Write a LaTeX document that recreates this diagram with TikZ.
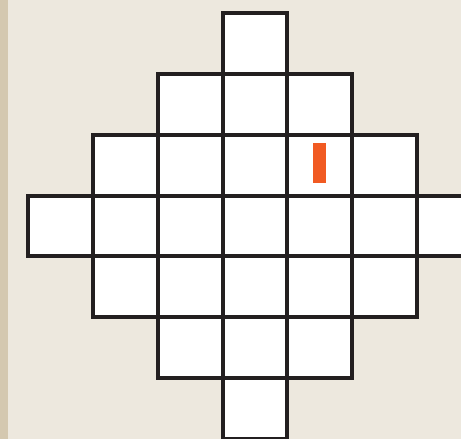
\documentclass[tikz,border=0pt]{standalone}
\usepackage{xcolor}
\definecolor{bg}{HTML}{EDE8DE}
\definecolor{strip}{HTML}{D4C8B0}
\definecolor{ink}{HTML}{231F20}
\definecolor{mark}{HTML}{F15A22}
\begin{document}
\begin{tikzpicture}[x=1pt,y=-1pt,
  cellbox/.style={inner sep=0pt,outer sep=0pt,minimum width=64.85pt,minimum height=60.75pt,fill=white},
  cellline/.style={draw=ink,line width=4pt},
  barbox/.style={inner sep=0pt,outer sep=0pt,minimum width=13pt,minimum height=40pt,fill=mark}]
\useasboundingbox (0,0) rectangle (461,439);
\clip (0,0) rectangle (461,439);
\fill[bg] (0,0) rectangle (461,439);
\fill[strip] (0,0) rectangle (7.5,439);
% cells: row/first col/last col
\foreach \r/\a/\b in {0/3/3,1/2/4,2/1/5,3/0/6,4/1/5,5/2/4,6/3/3}{
  \foreach \c in {\a,...,\b}{
    \node[cellbox] (cell-\r-\c) at ({28+64.85*(\c+0.5)},{13.3+60.75*(\r+0.5)}) {};
  }
}
\foreach \r/\a/\b in {0/3/3,1/2/4,2/1/5,3/0/6,4/1/5,5/2/4,6/3/3}{
  \foreach \c in {\a,...,\b}{
    \draw[cellline] (cell-\r-\c.south west) rectangle (cell-\r-\c.north east);
  }
}
\node[barbox] (bar) at (319.2,162.5) {};
\end{tikzpicture}
\end{document}
